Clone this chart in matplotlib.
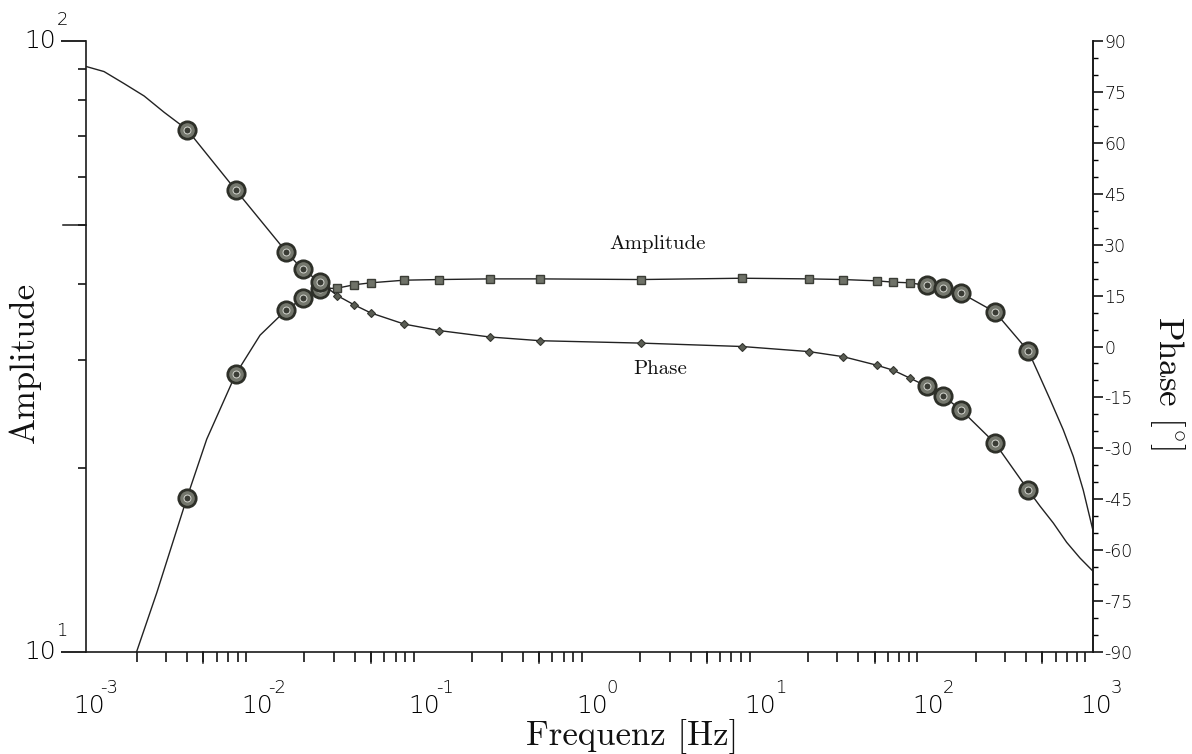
import matplotlib
matplotlib.use("Agg")
import matplotlib.pyplot as plt
import matplotlib.transforms as mtrans
from matplotlib.ticker import FixedLocator, NullFormatter, NullLocator

plt.rcParams["mathtext.fontset"] = "cm"

# ---- data ----
# frequencies of measured points [Hz]
freq_circ_lo = [0.004, 0.0078, 0.0156, 0.0195, 0.0248]
freq_mid = [0.0314, 0.0395, 0.0497, 0.0787, 0.127, 0.255, 0.51,
            2.03, 8.1, 20.3, 32.5, 51.4, 64.6, 81.0]
freq_circ_hi = [102, 127, 163, 261, 411]

# amplitude (left, log axis)
amp_circ_lo = [17.9, 28.5, 36.3, 37.9, 39.3]
amp_mid = [39.4, 39.9, 40.2, 40.6, 40.7, 40.8, 40.8,
           40.7, 40.9, 40.8, 40.7, 40.5, 40.3, 40.2]
amp_circ_hi = [39.8, 39.4, 38.7, 36.0, 31.1]

# phase [deg] (right axis)
phase_circ_lo = [63.9, 46.1, 27.9, 22.7, 19.0]
phase_mid = [15.0, 12.3, 9.9, 6.6, 4.7, 2.8, 1.7,
             1.0, 0.0, -1.5, -3.0, -5.5, -7.0, -9.3]
phase_circ_hi = [-11.7, -14.5, -18.6, -28.5, -42.3]

# extra points on the fitted curves (outside the measured range)
amp_curve_f_lo = [0.002, 0.00264, 0.00524, 0.01089]
amp_curve_lo = [10.0, 12.5, 22.3, 33.0]
amp_curve_f_hi = [472, 555, 665, 763, 875, 1000]
amp_curve_hi = [28.6, 25.9, 23.1, 20.9, 18.4, 15.8]

phase_curve_f_lo = [0.001, 0.00128, 0.00168, 0.00222, 0.00292]
phase_curve_lo = [82.5, 81.0, 77.5, 73.8, 69.0]
phase_curve_f_hi = [483, 580, 697, 836, 1000]
phase_curve_hi = [-47.0, -52.0, -57.7, -62.3, -66.2]

phase_ticks = list(range(-90, 91, 15))
phase_ticklabels = [str(v) for v in phase_ticks]

# ---- helpers ----
def merge(*pairs):
    pts = []
    for fs, vs in pairs:
        pts += list(zip(fs, vs))
    pts.sort()
    return [p[0] for p in pts], [p[1] for p in pts]

LINE = "#222222"
SERIF = ["cmr10", "DejaVu Serif"]
TICKFONT = dict(family="DejaVu Sans", weight="light", color="#000000")

fig = plt.figure(figsize=(11.92, 7.54), dpi=100)
fig.patch.set_facecolor("white")
ax = fig.add_axes([86 / 1192, 1 - 652 / 754, 1007 / 1192, 611 / 754])
ax.set_xscale("log")
ax.set_yscale("log")
ax.set_xlim(1e-3, 1e3)
ax.set_ylim(10, 100)

ax2 = ax.twinx()
ax2.set_ylim(-90, 90)

# curves
af, av = merge((amp_curve_f_lo, amp_curve_lo), (freq_circ_lo, amp_circ_lo),
               (freq_mid, amp_mid), (freq_circ_hi, amp_circ_hi),
               (amp_curve_f_hi, amp_curve_hi))
ax.plot(af, av, color=LINE, lw=1.0, zorder=2)

pf, pv = merge((phase_curve_f_lo, phase_curve_lo), (freq_circ_lo, phase_circ_lo),
               (freq_mid, phase_mid), (freq_circ_hi, phase_circ_hi),
               (phase_curve_f_hi, phase_curve_hi))
ax2.plot(pf, pv, color=LINE, lw=1.0, zorder=2)

# markers
ax.plot(freq_mid, amp_mid, ls="none", marker="s", ms=5.2,
        mfc="#6f7268", mec="#3b3d36", mew=1, zorder=3)
ax2.plot(freq_mid, phase_mid, ls="none", marker="D", ms=3.6,
         mfc="#5a5d54", mec="#33352f", mew=0.8, zorder=3)

def ring(a, fs, vs):
    a.plot(fs, vs, ls="none", marker="o", ms=12.5, mfc="#74776d",
           mec="#2e3029", mew=2.0, zorder=4)
    a.plot(fs, vs, ls="none", marker="o", ms=5, mfc="#3a3c35",
           mec="#d4d5cf", mew=0.7, zorder=5)

ring(ax, freq_circ_lo + freq_circ_hi, amp_circ_lo + amp_circ_hi)
ring(ax2, freq_circ_lo + freq_circ_hi, phase_circ_lo + phase_circ_hi)

# curve labels
ax.text(2.56, 46.5, "Amplitude", family=SERIF, fontsize=15,
        ha="center", va="center", color="#111111")
ax.text(2.63, 29.1, "Phase", family=SERIF, fontsize=15,
        ha="center", va="center", color="#111111")

# spines
for a in (ax, ax2):
    a.spines["top"].set_visible(False)
    for s in a.spines.values():
        s.set_linewidth(1.2)
        s.set_color("#1a1a1a")
ax2.spines["left"].set_visible(False)
ax2.spines["bottom"].set_visible(False)

# x ticks
ax.xaxis.set_major_locator(FixedLocator([10.0 ** k for k in range(-3, 4)]))
ax.xaxis.set_minor_locator(FixedLocator(
    [m * 10.0 ** k for k in range(-3, 3) for m in range(2, 10)]))
ax.xaxis.set_major_formatter(NullFormatter())
ax.xaxis.set_minor_formatter(NullFormatter())
ax.tick_params(axis="x", which="major", direction="out", length=18, width=1.2)
ax.tick_params(axis="x", which="minor", direction="out", length=7, width=1.1)
xt = ax.get_xaxis_transform()
for k in range(-3, 3):
    ax.plot([5 * 10.0 ** k] * 2, [0, -0.018], transform=xt, color="#1a1a1a",
            lw=1.1, clip_on=False)

# left ticks
ax.yaxis.set_major_locator(FixedLocator([10, 100]))
ax.yaxis.set_minor_locator(FixedLocator(list(range(20, 100, 10))))
ax.yaxis.set_major_formatter(NullFormatter())
ax.yaxis.set_minor_formatter(NullFormatter())
ax.tick_params(axis="y", which="major", direction="out", length=18, width=1.2)
ax.tick_params(axis="y", which="minor", direction="out", length=6, width=1.1)
yt = ax.get_yaxis_transform()
ax.plot([0, -0.023], [50, 50], transform=yt, color="#1a1a1a", lw=1.1,
        clip_on=False)

# right ticks
ax2.yaxis.set_major_locator(FixedLocator(phase_ticks))
ax2.yaxis.set_minor_locator(FixedLocator(list(range(-90, 91, 5))))
ax2.set_yticklabels(phase_ticklabels, fontsize=12.5, **TICKFONT)
ax2.tick_params(axis="y", which="major", direction="out", length=7, width=1.1, pad=1)
ax2.tick_params(axis="y", which="minor", direction="out", length=3.5, width=1.0)
ax2.xaxis.set_major_locator(NullLocator())

# decade labels (plotter style: base + raised exponent)
for k in range(-3, 4):
    base = mtrans.offset_copy(xt, fig=fig, x=3, y=-54, units="dots")
    ax.text(10.0 ** k, 0, "10", transform=base, fontsize=18,
            ha="center", va="center", **TICKFONT)
    ex = mtrans.offset_copy(xt, fig=fig, x=23, y=-36, units="dots")
    ax.text(10.0 ** k, 0, str(k), transform=ex, fontsize=13,
            ha="center", va="center", **TICKFONT)
for v, k in ((10, 1), (100, 2)):
    base = mtrans.offset_copy(yt, fig=fig, x=-46, y=0, units="dots")
    ax.text(0, v, "10", transform=base, fontsize=18,
            ha="center", va="center", **TICKFONT)
    ex = mtrans.offset_copy(yt, fig=fig, x=-24, y=21, units="dots")
    ax.text(0, v, str(k), transform=ex, fontsize=13,
            ha="center", va="center", **TICKFONT)

# axis titles
fig.text(632 / 1192, 1 - 737 / 754, "Frequenz [Hz]", family=SERIF, fontsize=25,
         ha="center", va="center", color="#111111")
fig.text(25 / 1192, 1 - 362 / 754, "Amplitude", family=SERIF, fontsize=25,
         rotation=90, ha="center", va="center", color="#111111")
fig.text(1167 / 1192, 1 - 383 / 754, r"Phase [$^{\circ}$]", family=SERIF,
         fontsize=25, rotation=-90, ha="center", va="center", color="#111111")

fig.savefig("out.png", dpi=100)
